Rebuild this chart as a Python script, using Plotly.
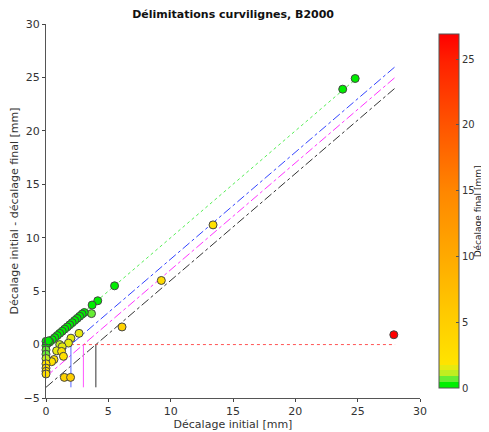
import plotly.graph_objects as go

# initial offset [mm] and (initial - final) offset [mm]
decalage_initial = [
    27.9, 23.8, 24.8, 13.4, 9.25, 6.1, 5.5, 4.15, 3.7, 3.65,
    3.07, 2.9, 2.7, 2.5, 2.3, 2.1, 1.9, 1.7, 1.5, 1.3,
    1.1, 0.9, 0.7, 0.5, 0.3, 0.1, 0.0, 0.0,
    2.65, 2.0, 1.8, 1.1, 1.3, 0.85, 1.25, 1.4, 0.64, 0.45,
    0.0, 0.0, 0.0, 0.0, 0.0, 0.0, 0.0, 1.47, 1.97, 0.2,
]
difference = [
    0.92, 23.9, 24.9, 11.2, 6.0, 1.65, 5.5, 4.1, 3.7, 2.9,
    3.0, 2.85, 2.65, 2.45, 2.25, 2.05, 1.85, 1.65, 1.45, 1.25,
    1.05, 0.85, 0.65, 0.45, 0.25, 0.1, 0.3, -0.1,
    1.05, 0.6, 0.14, 0.0, -0.2, -0.58, -0.64, -1.1, -1.4, -1.6,
    -0.5, -0.9, -1.3, -1.8, -2.2, -2.5, -2.75, -3.07, -3.07, 0.35,
]
decalage_final = [max(a - d, 0) for a, d in zip(decalage_initial, difference)]

x_axis_ticks = [0, 5, 10, 15, 20, 25, 30]
y_axis_ticks = [-5, 0, 5, 10, 15, 20, 25, 30]
cbar_ticks = [0, 5, 10, 15, 20, 25]

colorscale = [
    [0.0, "#00ee00"], [0.018, "#00ee00"],
    [0.018, "#66ee33"], [0.034, "#66ee33"],
    [0.034, "#c0ee20"], [0.05, "#c0ee20"],
    [0.05, "#e6ea10"], [0.066, "#e6ea10"],
    [0.066, "#ffe400"],
    [0.2, "#ffcc00"],
    [0.37, "#ffaa00"],
    [0.55, "#ff8800"],
    [0.74, "#ff5500"],
    [0.92, "#ff2200"],
    [1.0, "#ff0000"],
]

fig = go.Figure()

# reference lines
def add_line(xs, ys, color, dash):
    fig.add_trace(go.Scatter(x=xs, y=ys, mode="lines",
                             line=dict(color=color, width=1, dash=dash),
                             hoverinfo="skip", showlegend=False))

add_line([0, 25], [0, 25], "#55ee55", "dot")
add_line([0, 28], [-2, 26], "#3344ff", "dashdot")
add_line([0, 28], [-3, 25], "#ff33ff", "dashdot")
add_line([0, 28], [-4, 24], "#333333", "dashdot")
add_line([2, 28], [0, 0], "#ff5555", "dot")
add_line([2, 2], [-4, 0], "#5566ff", "solid")
add_line([3, 3], [-4, 0], "#ff55ff", "solid")
add_line([4, 4], [-4, 0], "#333333", "solid")

fig.add_trace(go.Scatter(
    x=decalage_initial, y=difference, mode="markers", cliponaxis=False,
    marker=dict(size=8, color=decalage_final, colorscale=colorscale,
                cmin=0, cmax=26.9, line=dict(color="#444444", width=1),
                colorbar=dict(
                    x=1.051, xanchor="left", xpad=0, y=0.5, yanchor="middle",
                    len=1.0, thickness=20, outlinewidth=1, outlinecolor="#555555",
                    tickvals=cbar_ticks, ticks="inside", ticklen=3, tickcolor="#555555",
                    tickfont=dict(size=10, color="#333333"),
                )),
    showlegend=False,
))

# colorbar title placed by hand so it stays inside the page
fig.add_annotation(text="Décalage final [mm]", textangle=-90, xref="paper", yref="paper",
                   x=1.156, y=0.5, xanchor="center", yanchor="middle", showarrow=False,
                   font=dict(size=9, color="#222222"))

# page body has an 8px margin, so the figure is shifted; compensate here
fig.update_layout(
    width=481, height=424,
    margin=dict(l=38, r=69, t=16, b=34, autoexpand=False),
    paper_bgcolor="white", plot_bgcolor="white",
    font=dict(family="DejaVu Sans", color="#333333"),
    title=dict(text="<b>Délimitations curvilignes, B2000</b>", x=0.468, xanchor="center",
               y=0.986, yanchor="middle", font=dict(size=11, color="#111111")),
    xaxis=dict(range=[0, 30], tickvals=x_axis_ticks, showgrid=False, zeroline=False,
               showline=True, linecolor="#555555", ticks="outside", ticklen=3,
               tickfont=dict(size=11), title=dict(text="Décalage initial [mm]",
                                                  font=dict(size=11), standoff=0)),
    yaxis=dict(range=[-5, 30], tickvals=y_axis_ticks, showgrid=False, zeroline=False,
               showline=True, linecolor="#555555", ticks="outside", ticklen=3,
               tickfont=dict(size=11), title=dict(text="Décalage initial - décalage final [mm]",
                                                  font=dict(size=11), standoff=4)),
)

fig.write_html("out.html")
